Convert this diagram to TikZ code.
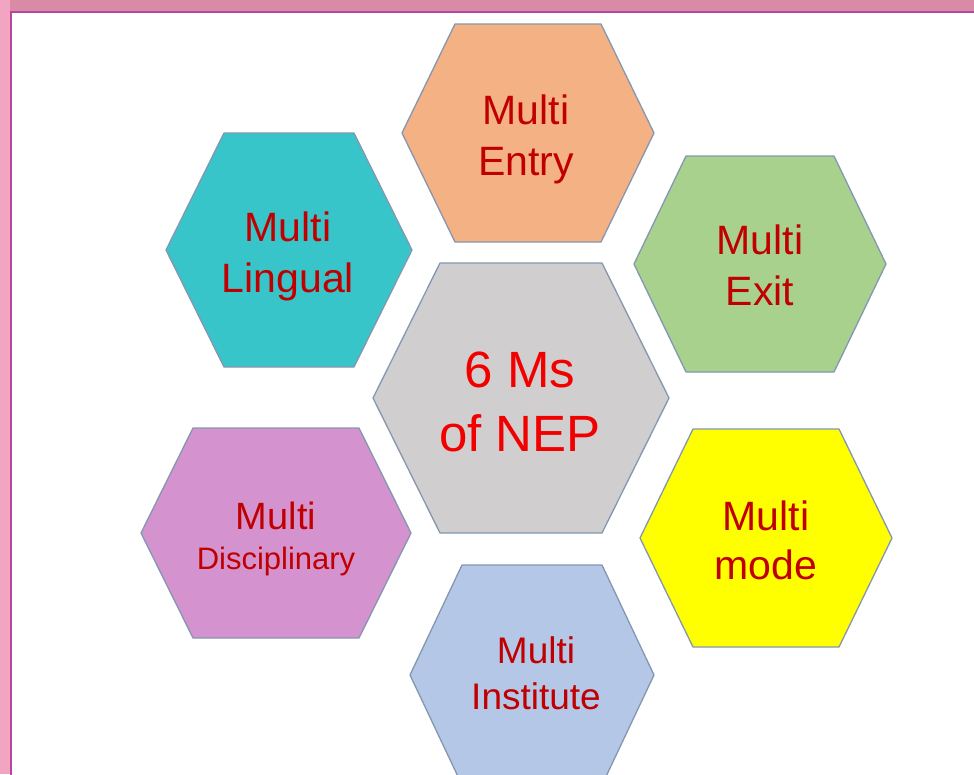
\documentclass[tikz,border=0pt]{standalone}
\usepackage{fontspec}
\setmainfont{Liberation Sans}
\definecolor{hexline}{HTML}{8497B0}
\definecolor{txtred}{HTML}{C00000}
\definecolor{ctrred}{HTML}{F20000}
\definecolor{cgrey}{HTML}{D0CECE}
\definecolor{corange}{HTML}{F4B183}
\definecolor{cteal}{HTML}{38C5C9}
\definecolor{cgreen}{HTML}{A9D18E}
\definecolor{cpurple}{HTML}{D492CE}
\definecolor{cyellow}{HTML}{FFFF00}
\definecolor{cblue}{HTML}{B4C7E7}
\definecolor{bandtop}{HTML}{D98AA4}
\definecolor{bandleft}{HTML}{F2A5C1}
\definecolor{frameline}{HTML}{B8469E}
% \hexpath{cx}{cy}{hw}{hh}{t}{fill}
\newcommand\hexpath[6]{%
  \draw[hexedge, fill=#6]
    ({#1-#3},{#2}) -- ({#1-#5},{#2-#4}) -- ({#1+#5},{#2-#4})
    -- ({#1+#3},{#2}) -- ({#1+#5},{#2+#4}) -- ({#1-#5},{#2+#4}) -- cycle;}
\tikzset{
  hexedge/.style={draw=hexline, line width=1.3pt, line join=round},
  hextext/.style={align=center, text=txtred, inner sep=0pt, text depth=0pt,
    font=\fontsize{41}{51}\selectfont},
}
\begin{document}
\begin{tikzpicture}[x=1pt,y=-1pt]
\useasboundingbox (0,0) rectangle (974,774);
\fill[white] (0,0) rectangle (974,774);
% frame
\fill[bandtop] (0,0) rectangle (974,11);
\fill[bandleft] (0,0) rectangle (9.5,774);
\draw[frameline, line width=2pt] (974,11.5) -- (10.5,11.5) -- (10.5,775);
% hexagons
\hexpath{521}{398}{148}{135}{81}{cgrey}
\hexpath{528}{133}{126}{109}{73}{corange}
\hexpath{289}{250}{123}{117}{65}{cteal}
\hexpath{760}{264}{126}{108}{74}{cgreen}
\hexpath{766}{538}{126}{109}{73}{cyellow}
\hexpath{276}{533}{135}{105}{83}{cpurple}
\hexpath{532}{675}{122}{110}{70}{cblue}
% texts
\node[hextext, text=ctrred, font=\fontsize{51}{64}\selectfont] (center) at (520,402) {6 Ms\\of NEP};
\node[hextext] (entry) at (526,135) {Multi\\Entry};
\node[hextext] (lingual) at (288,252) {Multi\\Lingual};
\node[hextext] (exit) at (760,265) {Multi\\Exit};
\node[hextext, font=\fontsize{41}{49}\selectfont] (mode) at (766,540) {Multi\\mode};
\node[hextext, font=\fontsize{31}{40}\selectfont] (disc) at (276,536) {{\fontsize{38}{40}\selectfont Multi}\\Disciplinary};
\node[hextext, font=\fontsize{37}{46}\selectfont] (inst) at (536,673) {Multi\\Institute};
\end{tikzpicture}
\end{document}
